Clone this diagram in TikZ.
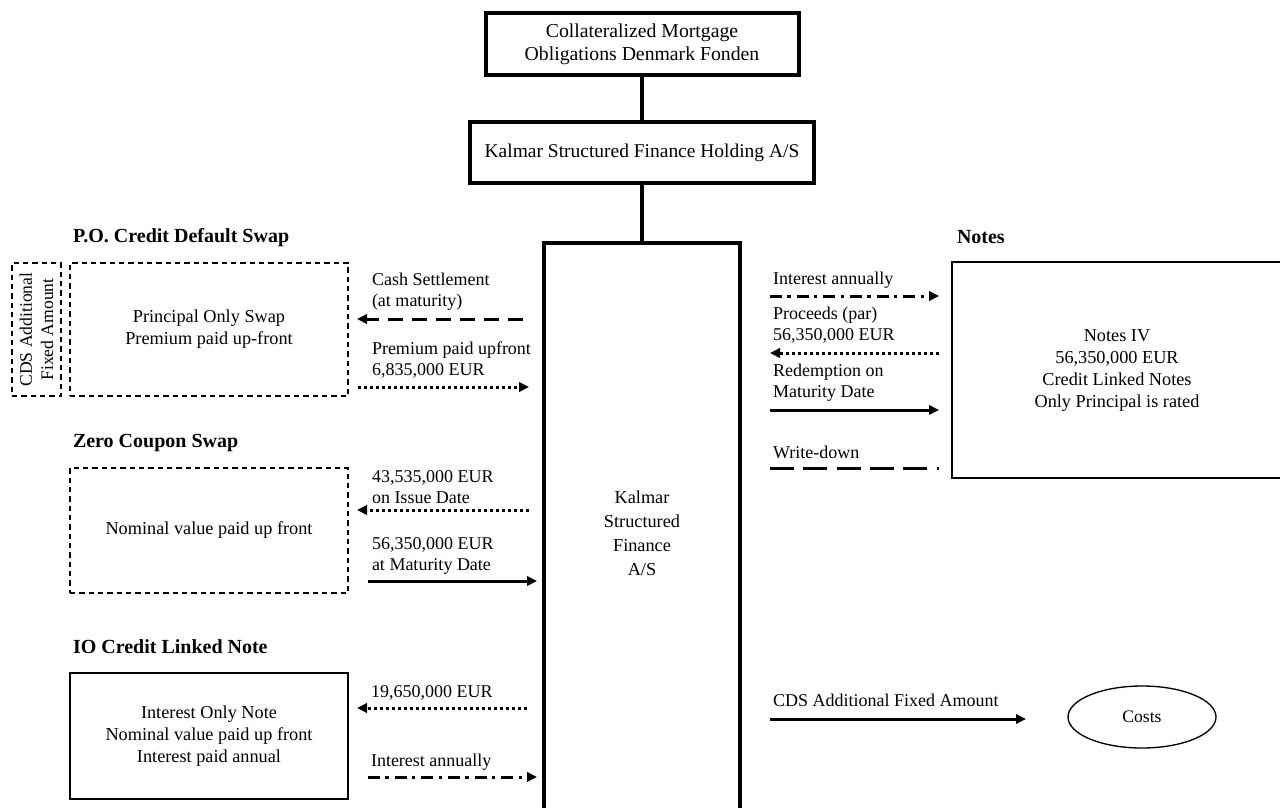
\documentclass[tikz,border=0pt]{standalone}
\usepackage{fontspec}
\setmainfont{Liberation Serif}
\usetikzlibrary{arrows.meta,shapes.geometric}
\begin{document}
\begin{tikzpicture}[x=0.75pt,y=-0.75pt,
  every node/.style={font=\fontsize{13.7}{16.5}\selectfont, inner sep=0pt, outer sep=0pt},
  thickbox/.style={draw, line width=3pt, align=center},
  thinbox/.style={draw, line width=1.1pt, align=center},
  dashbox/.style={draw, line width=1pt, dash pattern=on 4pt off 3pt, align=center},
  lbl/.style={anchor=west, align=left, font=\fontsize{13.5}{15.8}\selectfont},
  head/.style={anchor=west, font=\fontsize{15}{17}\selectfont\bfseries},
  flow/.style={line width=2.25pt, -{Triangle[length=7.5pt,width=7pt]}},
  solidflow/.style={flow},
  dotflow/.style={flow, dash pattern=on 2.25pt off 2.25pt},
  longdashflow/.style={flow, dash pattern=on 11pt off 7pt},
  dashdotflow/.style={flow, dash pattern=on 9pt off 4pt on 2.5pt off 4.5pt},
  wdline/.style={line width=2.25pt, dash pattern=on 18pt off 7pt},
  link/.style={line width=3pt}
]
\useasboundingbox (0,0) rectangle (1280,807);
\clip (0,0) rectangle (1280,807);

% top structure
\node[thickbox, minimum width=234.75pt, minimum height=46.5pt, font=\fontsize{14.8}{17.5}\selectfont] (cmo) at (642,44) {Collateralized Mortgage\\Obligations Denmark Fonden};
\node[thickbox, minimum width=258pt, minimum height=45.75pt, font=\fontsize{14.6}{17}\selectfont] (hold) at (642,152.5) {Kalmar Structured Finance Holding A/S};
\node[thickbox, minimum width=147pt, minimum height=435pt, font=\fontsize{13.7}{18}\selectfont] (main) at (642,533) {Kalmar\\Structured\\Finance\\A/S};
\draw[link] (cmo.south) -- (hold.north);
\draw[link] (hold.south) -- (main.north);

% P.O. Credit Default Swap
\node[head] (hpo) at (73,238) {P.O. Credit Default Swap};
\node[dashbox, minimum width=36.75pt, minimum height=99.75pt] (cdsbox) at (36.5,329.5) {};
\node[rotate=90, align=center, font=\fontsize{13.2}{16}\selectfont] (cdstext) at (cdsbox.center) {CDS Additional\\Fixed Amount};
\node[dashbox, minimum width=208.5pt, minimum height=99.75pt] (po) at (209,329.5) {Principal Only Swap\\Premium paid up-front};

\node[lbl] (lcash) at (372,292) {Cash Settlement\\(at maturity)};
\coordinate (c1s) at (523,319); \coordinate (c1e) at (357,319);
\draw[longdashflow] (c1s) -- (c1e);
\node[lbl] (lprem) at (372,360) {Premium paid upfront\\6,835,000 EUR};
\coordinate (c2s) at (358,387); \coordinate (c2e) at (529,387);
\draw[dotflow] (c2s) -- (c2e);

% Zero Coupon Swap
\node[head] (hzcs) at (73,443) {Zero Coupon Swap};
\node[dashbox, minimum width=208.5pt, minimum height=93.75pt] (zcs) at (209,530.5) {Nominal value paid up front};
\node[lbl] (liss) at (372,487) {43,535,000 EUR\\on Issue Date};
\coordinate (c3s) at (529,510); \coordinate (c3e) at (357,510);
\draw[dotflow] (c3s) -- (c3e);
\node[lbl] (lmat) at (372,556) {56,350,000 EUR\\at Maturity Date};
\coordinate (c4s) at (368,581); \coordinate (c4e) at (537,581);
\draw[solidflow] (c4s) -- (c4e);

% IO Credit Linked Note
\node[head] (hio) at (73,647) {IO Credit Linked Note};
\node[thinbox, minimum width=208.5pt, minimum height=94.5pt] (io) at (209,736) {Interest Only Note\\Nominal value paid up front\\Interest paid annual};
\node[lbl] (l196) at (371,693) {19,650,000 EUR};
\coordinate (c5s) at (527,708); \coordinate (c5e) at (357,708);
\draw[dotflow] (c5s) -- (c5e);
\node[lbl] (lint1) at (371,762) {Interest annually};
\coordinate (c6s) at (368,777); \coordinate (c6e) at (537,777);
\draw[dashdotflow] (c6s) -- (c6e);

% Notes
\node[head] (hnotes) at (957,237) {Notes};
\node[thinbox, minimum width=247.5pt, minimum height=162pt] (notes) at (1117,370) {Notes IV\\56,350,000 EUR\\Credit Linked Notes\\Only Principal is rated};
\node[lbl] (lint2) at (773,280) {Interest annually};
\coordinate (c7s) at (770,296); \coordinate (c7e) at (939,296);
\draw[dashdotflow] (c7s) -- (c7e);
\node[lbl] (lproc) at (773,325.5) {Proceeds (par)\\56,350,000 EUR};
\coordinate (c8s) at (939,353); \coordinate (c8e) at (770,353);
\draw[dotflow] (c8s) -- (c8e);
\node[lbl] (lred) at (773,383) {Redemption on\\Maturity Date};
\coordinate (c9s) at (770,410); \coordinate (c9e) at (939,410);
\draw[solidflow] (c9s) -- (c9e);
\node[lbl] (lwd) at (773,452) {Write-down};
\coordinate (c10s) at (770,468); \coordinate (c10e) at (939,468);
\draw[wdline] (c10s) -- (c10e);

% Costs
\node[lbl] (lcds) at (773,700) {CDS Additional Fixed Amount};
\node[draw, ellipse, line width=1pt, minimum width=111pt, minimum height=46.5pt, font=\fontsize{13.2}{16}\selectfont] (costs) at (1142,717) {Costs};
\coordinate (c11s) at (770,719); \coordinate (c11e) at (1026,719);
\draw[solidflow] (c11s) -- (c11e);
\end{tikzpicture}
\end{document}
